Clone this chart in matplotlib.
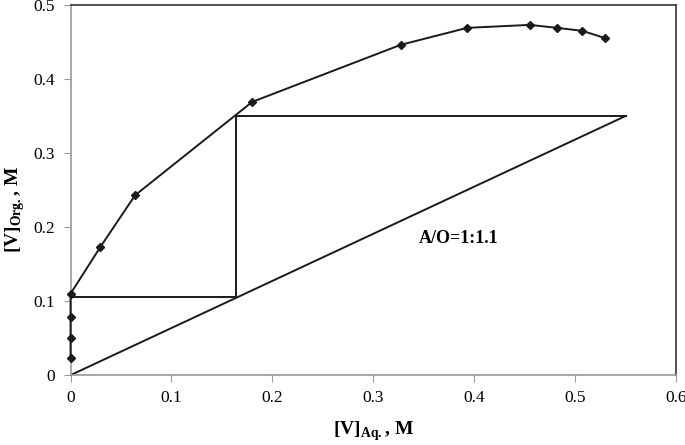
import matplotlib
matplotlib.use('Agg')
import matplotlib.pyplot as plt

plt.rcParams['font.family'] = 'Liberation Serif'
plt.rcParams['mathtext.fontset'] = 'custom'
plt.rcParams['mathtext.rm'] = 'Liberation Serif'
plt.rcParams['mathtext.bf'] = 'Liberation Serif:bold'

# equilibrium curve
v_aq = [0, 0, 0, 0, 0.0295, 0.064, 0.18, 0.327, 0.393, 0.455, 0.482, 0.507, 0.530]
v_org = [0.023, 0.050, 0.078, 0.110, 0.173, 0.243, 0.369, 0.446, 0.469, 0.473, 0.469, 0.465, 0.455]

# operating line A/O = 1:1.1
op_x = [0, 0.55]
op_y = [0, 0.35]

# McCabe-Thiele steps
step_x = [0.55, 0.164, 0.164, 0]
step_y = [0.35, 0.35, 0.106, 0.106]

fig = plt.figure(figsize=(6.85, 4.45), dpi=100)
ax = fig.add_axes([0.103, 0.157, 0.884, 0.832])

ax.plot(v_aq, v_org, color='#1a1a1a', lw=1.4, marker='D', ms=4.5, zorder=3, clip_on=False)
ax.plot(op_x, op_y, color='#1a1a1a', lw=1.4)
ax.plot(step_x, step_y, color='#1a1a1a', lw=1.4)

ax.text(0.385, 0.185, 'A/O=1:1.1', fontsize=13, fontweight='bold', ha='center', va='center')

ax.set_xlim(0, 0.6)
ax.set_ylim(0, 0.5)
ax.set_xticks([0, 0.1, 0.2, 0.3, 0.4, 0.5, 0.6])
ax.set_xticklabels(['0', '0.1', '0.2', '0.3', '0.4', '0.5', '0.6'])
ax.set_yticks([0, 0.1, 0.2, 0.3, 0.4, 0.5])
ax.set_yticklabels(['0', '0.1', '0.2', '0.3', '0.4', '0.5'])
ax.tick_params(direction='out', length=5, color='#999999', labelsize=12.5, pad=6)

ax.spines['left'].set_color('#999999')
ax.spines['bottom'].set_color('#999999')
ax.spines['top'].set_color('#333333')
ax.spines['right'].set_color('#333333')
for s in ax.spines.values():
    s.set_linewidth(1.2)

fig.text(0.545, 0.03, r'[V]$_{\mathbf{Aq.}}$, M', fontsize=14, fontweight='bold', ha='center', va='center')
fig.text(0.022, 0.53, r'[V]$_{\mathbf{Org.}}$, M', fontsize=14, fontweight='bold', ha='center', va='center', rotation=90)

fig.savefig('out.png', dpi=100)
